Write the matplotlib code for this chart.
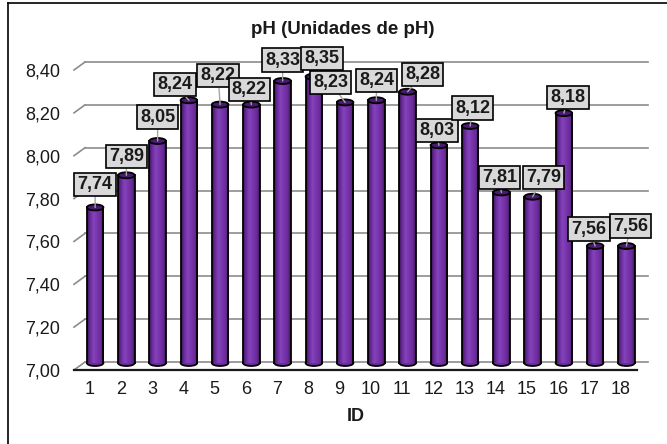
import numpy as np
import matplotlib
matplotlib.use("Agg")
import matplotlib.pyplot as plt
from matplotlib.patches import Ellipse
from matplotlib.lines import Line2D
from matplotlib.colors import LinearSegmentedColormap
from matplotlib.transforms import Affine2D

plt.rcParams['font.family'] = ['Liberation Sans', 'DejaVu Sans']

# ---- data ----
ids = list(range(1, 19))
ph_values = [7.74, 7.89, 8.05, 8.24, 8.22, 8.22, 8.33, 8.35, 8.23,
             8.24, 8.28, 8.03, 8.12, 7.81, 7.79, 8.18, 7.56, 7.56]
y_ticks = [7.00, 7.20, 7.40, 7.60, 7.80, 8.00, 8.20, 8.40]
y_tick_labels = ["7,00", "7,20", "7,40", "7,60", "7,80", "8,00", "8,20", "8,40"]
value_labels = [f"{v:.2f}".replace(".", ",") for v in ph_values]

# data-label placement (pixels right / up from the top of each cylinder)
label_dx = [0, 0, 0, -14, -2, -2, 0, 8, -14.5, 0, 15, -2, 2.5, -2, 11, 4, -6, 4]
label_dy = [23, 19, 24, 16, 29, 15, 21, 18, 20, 20, 17, 15, 18, 15, 19, 15.5, 17, 20]

W, H = 667, 444
fig = plt.figure(figsize=(W / 100, H / 100), dpi=100)
fig.patch.set_facecolor("white")

# axes = front plane of the 3-D box
ax = fig.add_axes([74 / W, (H - 370) / H, 562.5 / W, 300 / H])
ax.set_xlim(0.5, 18.5)
ax.set_ylim(7.0, 8.4)
ax.set_facecolor("none")

# depth offsets in pixels (front -> middle -> back)
DX, DY = 11.0, 8.0
mid = ax.transData + Affine2D().translate(DX / 2, DY / 2)
back = ax.transData + Affine2D().translate(DX, DY)

grid_col = "#8c8c8c"
for t in y_ticks:
    # back-wall grid line
    ax.add_line(Line2D([0.5, 18.5], [t, t], transform=back, color=grid_col,
                       lw=1.2, clip_on=False, zorder=1))
    # side-wall diagonal from front to back
    p0 = ax.transData.transform((0.5, t))
    ax.add_line(Line2D([p0[0], p0[0] + DX], [p0[1], p0[1] + DY], transform=None,
                       color=grid_col, lw=1.2, clip_on=False, zorder=1))

# cylinders
bar_w = 0.53
ell_h = 0.028
base = 7.0 + ell_h / 2
cyl_cmap = LinearSegmentedColormap.from_list(
    "cyl", ["#3e125e", "#6e2e9e", "#8444bc", "#7834ac", "#6c2c9c", "#44165f"])
grad = np.linspace(0, 1, 64).reshape(1, -1)

bars = ax.bar(ids, [v - base for v in ph_values], bottom=base, width=bar_w,
              color="none", edgecolor="none", zorder=3)
for x, v, rect in zip(ids, ph_values, bars):
    rect.set_transform(mid)
    rect.set_clip_on(False)
    # bottom cap
    eb = Ellipse((x, base), bar_w, ell_h, facecolor="#6a2c9a", edgecolor="black",
                 lw=1.3, zorder=2, clip_on=False)
    eb.set_transform(mid)
    ax.add_patch(eb)
    # shaded body
    im = ax.imshow(grad, cmap=cyl_cmap, aspect="auto", interpolation="bilinear",
                   extent=(x - bar_w / 2, x + bar_w / 2, base, v), zorder=3)
    im.set_transform(mid)
    im.set_clip_path(rect)
    # outline sides
    ax.add_line(Line2D([x - bar_w / 2, x - bar_w / 2], [base, v], transform=mid,
                       color="black", lw=1.3, zorder=4, clip_on=False))
    ax.add_line(Line2D([x + bar_w / 2, x + bar_w / 2], [base, v], transform=mid,
                       color="black", lw=1.3, zorder=4, clip_on=False))
    # top cap
    et = Ellipse((x, v), bar_w, ell_h, facecolor="#4a1a70", edgecolor="black",
                 lw=1.3, zorder=5, clip_on=False)
    et.set_transform(mid)
    ax.add_patch(et)

ax.set_xlim(0.5, 18.5)
ax.set_ylim(7.0, 8.4)

# data labels
for x, v, txt, dx, dy in zip(ids, ph_values, value_labels, label_dx, label_dy):
    ax.annotate(txt, xy=(x, v), xycoords=mid, xytext=(dx, dy),
                textcoords="offset pixels", ha="center", va="center",
                fontsize=13, fontweight="bold", color="#1a1a1a", zorder=10,
                annotation_clip=False,
                bbox=dict(boxstyle="square,pad=0.18", facecolor="#d9d9d9",
                          edgecolor="black", lw=1.2),
                arrowprops=dict(arrowstyle="-", color="#a6a6a6", lw=1.0,
                                shrinkA=0, shrinkB=0))

# axes styling
for s in ["left", "right", "top"]:
    ax.spines[s].set_visible(False)
ax.spines["bottom"].set_color("#1a1a1a")
ax.spines["bottom"].set_linewidth(1.6)
ax.spines["bottom"].set_zorder(6)

ax.set_yticks(y_ticks)
ax.set_yticklabels(y_tick_labels)
ax.set_xticks(ids)
ax.set_xticklabels([str(i) for i in ids])
ax.tick_params(axis="y", length=0, pad=10, labelsize=13, labelcolor="#1a1a1a")
ax.tick_params(axis="x", length=0, pad=8, labelsize=13, labelcolor="#1a1a1a")
ax.set_xlabel("ID", fontsize=13, fontweight="bold", labelpad=7, color="#1a1a1a")

fig.text(342.7 / W, 1 - 30 / H, "pH (Unidades de pH)", ha="center", va="center",
         fontsize=13.5, fontweight="bold", color="#1a1a1a")

# chart-area border
fig.add_artist(Line2D([7.5 / W, 7.5 / W], [0, 1 - 3.5 / H], transform=fig.transFigure,
                      color="black", lw=1.2))
fig.add_artist(Line2D([7.5 / W, 1], [1 - 3.5 / H, 1 - 3.5 / H], transform=fig.transFigure,
                      color="black", lw=1.2))

fig.savefig("out.png", dpi=100)
